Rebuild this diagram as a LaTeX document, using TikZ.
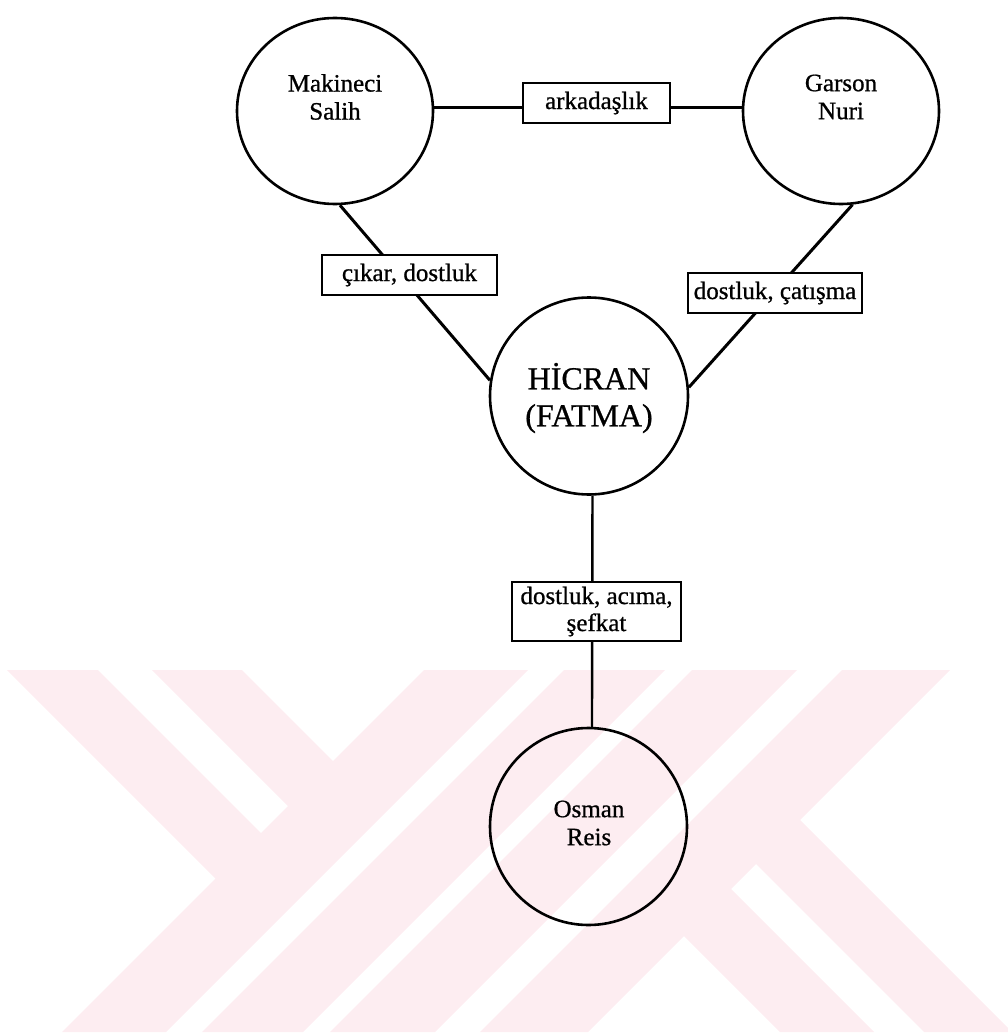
\documentclass[tikz,border=0pt]{standalone}
\usepackage{fontspec}
\setmainfont[FakeBold=0.8]{Liberation Serif}
\usetikzlibrary{shapes.geometric}
\definecolor{wmpink}{RGB}{253,237,241}
\begin{document}
\begin{tikzpicture}[x=1pt,y=-1pt,
  person/.style={draw, ellipse, line width=2.6pt, inner sep=0pt,
                 minimum width=196pt, minimum height=196pt},
  personname/.style={align=center, inner sep=0pt,
                 font=\fontsize{25pt}{28pt}\selectfont},
  tiebox/.style={draw, fill=white, line width=2.6pt, inner sep=0pt,
                 align=center, minimum height=40pt,
                 font=\fontsize{25pt}{27pt}\selectfont},
  link/.style={line width=3pt},
  emblem/.style={fill=wmpink, draw=none}]
\useasboundingbox (0,0) rectangle (1008,1035);

% pale emblem in the lower part of the page
\fill[emblem] (424,670) -- (528,670) -- (166,1032) -- (62,1032) -- cycle;
\fill[emblem] (564,670) -- (665,670) -- (303,1032) -- (202,1032) -- cycle;
\fill[emblem] (692,670) -- (797,670) -- (435,1032) -- (330,1032) -- cycle;
\fill[emblem] (842,670) -- (950,670) -- (588,1032) -- (480,1032) -- cycle;
\fill[emblem] (7,670) -- (98,670) -- (269,841) -- (223.5,886.5) -- cycle;
\fill[emblem] (152,670) -- (242,670) -- (341,769) -- (296,814) -- cycle;
\fill[emblem] (676.5,928.5) -- (723.5,881.5) -- (874,1032) -- (780,1032) -- cycle;
\fill[emblem] (748.5,856.5) -- (792.5,812.5) -- (1008,1028) -- (1008,1032) -- (924,1032) -- cycle;

% characters
\node[person, minimum height=186pt] (salih) at (335,111) {};
\node[person, minimum height=186pt] (nuri) at (841,111) {};
\node[person, minimum height=197pt, minimum width=198pt] (hicran) at (589,396) {};
\node[person, minimum height=197pt, minimum width=197pt] (osman) at (588.5,826.5) {};

\node[personname] (salihname) at (335,97) {Makineci\\Salih};
\node[personname] (nuriname) at (841,97) {Garson\\Nuri};
\node[personname, font=\fontsize{32pt}{37pt}\selectfont] (hicranname) at (589,398) {HİCRAN\\(FATMA)};
\node[personname] (osmanname) at (589,823) {Osman\\Reis};

% relations
\draw[link, line width=2.2pt] (salih.2) -- (nuri.178);
\draw[link] (salih.-87) -- (hicran.171);
\draw[link] (nuri.-83) -- (hicran.5);
\draw[link, line width=2.4pt] (hicran.-88) -- (osman.88);

\node[tiebox, minimum width=147pt] (ark) at (596.5,103) {arkadaşlık};
\node[tiebox, minimum width=175pt] (cikar) at (409.5,275) {çıkar, dostluk};
\node[tiebox, minimum width=174pt] (catisma) at (775,293) {dostluk, çatışma};
\node[tiebox, minimum width=169pt, minimum height=59pt] (sefkat) at (596.5,611.5) {dostluk, acıma,\\şefkat};
\end{tikzpicture}
\end{document}
